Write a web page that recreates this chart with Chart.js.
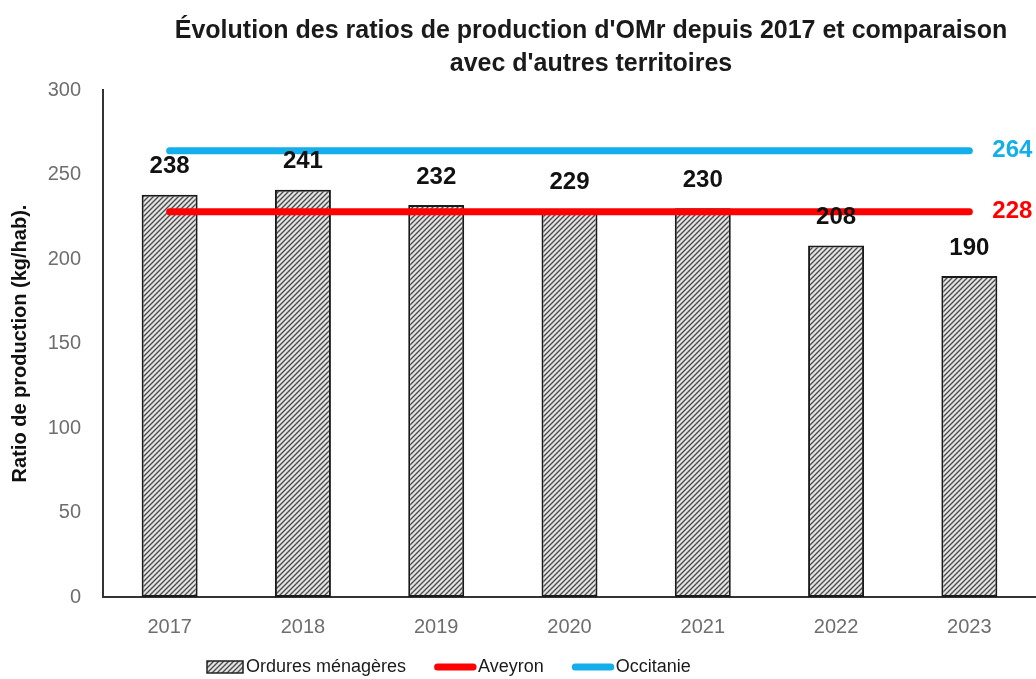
<!DOCTYPE html>
<html>
<head>
<meta charset="utf-8">
<script src="https://cdn.jsdelivr.net/npm/chart.js@4"></script>
<style>
  html, body { margin: 0; padding: 0; background: #fff; }
  #wrap { width: 1036px; height: 679px; }
</style>
</head>
<body>
<div id="wrap"><canvas id="chart"></canvas></div>
<script>
"use strict";

// data
var years = ["2017", "2018", "2019", "2020", "2021", "2022", "2023"];
var omr = [238, 241, 232, 229, 230, 208, 190];
var aveyron = [228, 228, 228, 228, 228, 228, 228];
var occitanie = [264, 264, 264, 264, 264, 264, 264];
var seriesNames = ["Ordures ménagères", "Aveyron", "Occitanie"];
var titleLines = [
  "Évolution des ratios de production d'OMr depuis 2017 et comparaison",
  "avec d'autres territoires"
];
var yTitle = "Ratio de production (kg/hab).";
var yTicks = [0, 50, 100, 150, 200, 250, 300];

var RED = "#ff0000";
var BLUE = "#14aeea";
var FONT = "'Liberation Sans', Arial, sans-serif";

// hatch pattern for the bars
function makeHatch() {
  var p = 5;
  var c = document.createElement("canvas");
  c.width = p;
  c.height = p;
  var g = c.getContext("2d");
  g.fillStyle = "#e4e4e4";
  g.fillRect(0, 0, p, p);
  g.strokeStyle = "#4d4d4d";
  g.lineWidth = 1.4;
  g.beginPath();
  g.moveTo(0, p);
  g.lineTo(p, 0);
  g.moveTo(-1, 1);
  g.lineTo(1, -1);
  g.moveTo(p - 1, p + 1);
  g.lineTo(p + 1, p - 1);
  g.stroke();
  return g.createPattern(c, "repeat");
}
var hatch = makeHatch();

// value labels above bars and at the end of the lines
var valueLabels = {
  id: "valueLabels",
  afterDatasetsDraw: function (chart) {
    var ctx = chart.ctx;
    ctx.save();
    ctx.font = "bold 24px " + FONT;
    ctx.textBaseline = "middle";
    chart.data.datasets.forEach(function (ds, i) {
      var meta = chart.getDatasetMeta(i);
      if (ds.type === "bar") {
        ctx.fillStyle = "#111";
        ctx.textAlign = "center";
        meta.data.forEach(function (el, j) {
          ctx.fillText(String(ds.data[j]), el.x, el.y - 28);
        });
      } else {
        var last = meta.data[meta.data.length - 1];
        ctx.fillStyle = ds.borderColor;
        ctx.textAlign = "left";
        ctx.fillText(String(ds.data[ds.data.length - 1]), last.x + 23, last.y);
      }
    });
    ctx.restore();
  }
};

// title and legend drawn by hand so they sit where the original has them
var decorations = {
  id: "decorations",
  afterDraw: function (chart) {
    var ctx = chart.ctx;
    ctx.save();
    ctx.fillStyle = "#1a1a1a";
    ctx.font = "bold 25px " + FONT;
    ctx.textAlign = "center";
    ctx.textBaseline = "alphabetic";
    ctx.fillText(titleLines[0], 591, 38);
    ctx.fillText(titleLines[1], 591, 71);

    // legend
    ctx.font = "18px " + FONT;
    ctx.textAlign = "left";
    ctx.textBaseline = "middle";
    var x = 207, y = 667;
    seriesNames.forEach(function (name, i) {
      if (i === 0) {
        ctx.fillStyle = hatch;
        ctx.fillRect(x, y - 6, 36, 12);
        ctx.strokeStyle = "#222";
        ctx.lineWidth = 1.5;
        ctx.strokeRect(x, y - 6, 36, 12);
        x += 39;
      } else {
        ctx.strokeStyle = i === 1 ? RED : BLUE;
        ctx.lineWidth = 7;
        ctx.lineCap = "round";
        ctx.beginPath();
        ctx.moveTo(x + 3.5, y);
        ctx.lineTo(x + 39, y);
        ctx.stroke();
        x += 44;
      }
      ctx.fillStyle = "#1a1a1a";
      ctx.fillText(name, x, y);
      x += ctx.measureText(name).width + 28;
    });
    ctx.restore();
  }
};

var ctx = document.getElementById("chart");

var myChart = new Chart(ctx, {
  data: {
    labels: years,
    datasets: [
      {
        type: "bar",
        label: seriesNames[0],
        data: omr,
        backgroundColor: hatch,
        borderColor: "#1a1a1a",
        borderWidth: 2,
        borderSkipped: false,
        barPercentage: 0.42,
        categoryPercentage: 1,
        order: 3
      },
      {
        type: "line",
        label: seriesNames[1],
        data: aveyron,
        borderColor: RED,
        backgroundColor: RED,
        borderWidth: 7,
        borderCapStyle: "round",
        pointRadius: 0,
        order: 2
      },
      {
        type: "line",
        label: seriesNames[2],
        data: occitanie,
        borderColor: BLUE,
        backgroundColor: BLUE,
        borderWidth: 7,
        borderCapStyle: "round",
        pointRadius: 0,
        order: 1
      }
    ]
  },
  options: {
    responsive: true,
    maintainAspectRatio: false,
    animation: false,
    layout: { padding: { top: 90, right: 0, bottom: 0, left: 0 } },
    plugins: {
      legend: { display: false },
      tooltip: { enabled: false }
    },
    scales: {
      x: {
        grid: { display: false, drawTicks: false },
        border: { color: "#333", width: 2 },
        ticks: {
          color: "#6e6e6e",
          font: { family: FONT, size: 20 },
          padding: 18
        },
        afterFit: function (scale) {
          scale.height = 82;
        }
      },
      y: {
        min: 0,
        max: 300,
        grid: { display: false, drawTicks: false },
        border: { color: "#333", width: 2 },
        afterBuildTicks: function (scale) {
          scale.ticks = yTicks.map(function (v) { return { value: v }; });
        },
        ticks: {
          color: "#6e6e6e",
          font: { family: FONT, size: 20 },
          padding: 22
        },
        title: {
          display: true,
          text: yTitle,
          color: "#111",
          font: { family: FONT, size: 20, weight: "bold" },
          padding: { top: 8, bottom: 0 }
        },
        afterFit: function (scale) {
          scale.width = 103;
        }
      }
    }
  },
  plugins: [valueLabels, decorations]
});
</script>
</body>
</html>
